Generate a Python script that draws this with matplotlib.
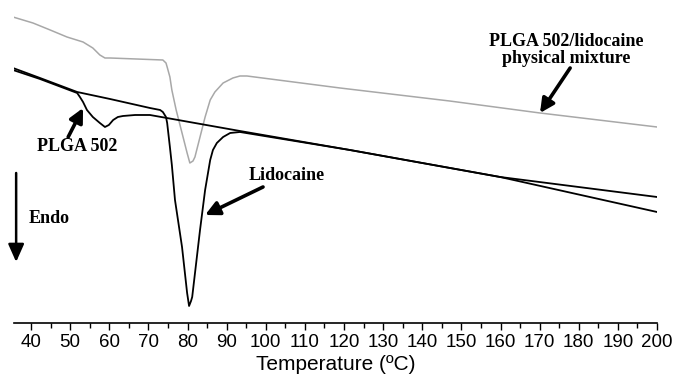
import numpy as np
import matplotlib
matplotlib.use('Agg')
import matplotlib.pyplot as plt
from matplotlib.ticker import MultipleLocator

# DSC thermograms (heat flow in arbitrary units, endo down)
# physical mixture (grey trace)
mix_T = [35.4, 40.5, 44.9, 49.2, 53.3, 55.8, 57.6, 58.9, 60.2, 73.7, 74.5, 74.8,
         75.5, 76.0, 77.1, 78.6, 79.9, 80.6, 81.4, 81.9, 83.2, 84.5, 85.8, 87.0,
         89.1, 91.6, 93.4, 95.2, 119.0, 147.0, 170.1, 200.0]
mix_hf = [30.6, 30.0, 29.3, 28.6, 28.1, 27.5, 26.8, 26.5, 26.5, 26.3, 26.0, 25.6,
          24.6, 23.3, 21.3, 19.0, 17.0, 16.0, 16.2, 16.6, 18.6, 20.6, 22.3, 23.1,
          24.0, 24.5, 24.7, 24.7, 23.5, 22.2, 21.0, 19.6]

# lidocaine
lid_T = [35.4, 42.3, 51.8, 60.2, 70.4, 73.0, 73.7, 74.5, 74.8, 75.5, 76.0, 76.8,
         78.6, 79.9, 80.4, 80.9, 81.2, 83.2, 84.5, 85.8, 86.5, 87.5, 89.1, 90.9,
         93.4, 121.5, 159.9, 200.0]
lid_hf = [25.5, 24.5, 23.1, 22.4, 21.5, 21.3, 21.1, 20.6, 20.0, 17.6, 15.8, 12.3,
          7.6, 3.0, 1.7, 2.2, 2.6, 9.3, 13.3, 16.3, 17.3, 18.0, 18.6, 19.0,
          19.1, 17.3, 14.6, 11.1]

# PLGA 502
plga_T = [35.4, 42.3, 51.8, 52.5, 53.3, 54.3, 55.8, 57.6, 58.9, 59.9, 61.0, 62.2,
          63.5, 66.6, 70.4, 93.4, 121.5, 159.9, 200.0]
plga_hf = [25.3, 24.4, 23.0, 22.6, 22.1, 21.3, 20.6, 20.0, 19.6, 19.8, 20.3, 20.6,
           20.7, 20.8, 20.8, 19.2, 17.3, 14.6, 12.6]

fig = plt.figure(figsize=(6.79, 3.79), dpi=100)
ax = fig.add_axes([0.0206, 0.1478, 0.947, 0.8522])

ax.plot(mix_T, mix_hf, color='#a8a8a8', lw=1.1)
ax.plot(plga_T, plga_hf, color='black', lw=1.3)
ax.plot(lid_T, lid_hf, color='black', lw=1.3)

ax.set_xlim(35.65, 200)
ax.set_ylim(0, 32.3)

# only the temperature axis is shown
for s in ['left', 'right', 'top']:
    ax.spines[s].set_visible(False)
ax.spines['bottom'].set_linewidth(1.2)
ax.set_yticks([])
ax.xaxis.set_major_locator(MultipleLocator(10))
ax.xaxis.set_minor_locator(MultipleLocator(5))
ax.tick_params(axis='x', which='major', length=5, width=1, pad=3,
               labelsize=13.5)
ax.tick_params(axis='x', which='minor', length=3.5, width=1)
for lab in ax.get_xticklabels():
    lab.set_fontfamily('Liberation Sans')
ax.set_xlabel('Temperature (ºC)', fontsize=15, family='Liberation Sans',
              labelpad=3)

# labels and arrows
tfont = dict(family='Liberation Serif', fontweight='bold', fontsize=13,
             ha='center', va='center')
arw = dict(arrowstyle='-|>,head_width=0.35,head_length=0.7', lw=2.6,
           color='black', shrinkA=0, shrinkB=0, mutation_scale=12)

ax.text(51.8, 17.6, 'PLGA 502', **tfont)
ax.annotate('', xy=(53.3, 21.5), xytext=(49.5, 18.6), arrowprops=arw)

ax.text(105.4, 14.7, 'Lidocaine', **tfont)
ax.annotate('', xy=(84.5, 10.8), xytext=(99.3, 13.6), arrowprops=arw)

ax.text(176.7, 27.3, 'PLGA 502/lidocaine\nphysical mixture', linespacing=1.0,
        **tfont)
ax.annotate('', xy=(170.1, 21.0), xytext=(177.8, 25.5), arrowprops=arw)

ax.text(44.6, 10.4, 'Endo', **tfont)
ax.annotate('', xy=(36.2, 6.1), xytext=(36.2, 15.0),
            arrowprops=dict(arrowstyle='-|>,head_width=0.4,head_length=0.9',
                            lw=1.8, color='black', shrinkA=0, shrinkB=0,
                            mutation_scale=12))

fig.savefig('out.png', dpi=100)
